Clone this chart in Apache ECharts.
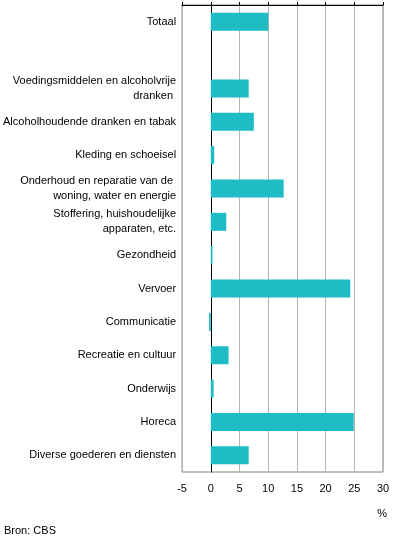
<!DOCTYPE html>
<html><head><meta charset="utf-8">
<script src="https://cdn.jsdelivr.net/npm/echarts@6/dist/echarts.min.js"></script>
<style>html,body{margin:0;padding:0;background:#fff}#c{width:396px;height:543px}</style>
</head><body><div id="c"></div>
<script>
var categories = ["Totaal", "", "Voedingsmiddelen en alcoholvrije\ndranken ", "Alcoholhoudende dranken en tabak", "Kleding en schoeisel", "Onderhoud en reparatie van de \nwoning, water en energie", "Stoffering, huishoudelijke\napparaten, etc.", "Gezondheid", "Vervoer", "Communicatie", "Recreatie en cultuur", "Onderwijs", "Horeca", "Diverse goederen en diensten"];
var values = [10.0, null, 6.6, 7.5, 0.6, 12.7, 2.7, 0.3, 24.3, -0.3, 3.1, 0.5, 24.9, 6.6];
var xTicks = [-5, 0, 5, 10, 15, 20, 25, 30];
var font = "Liberation Sans, Arial, sans-serif";
var chart = echarts.init(document.getElementById('c'), null, {renderer: 'canvas'});
chart.setOption({
  animation: false,
  grid: {left: 182, right: 13, top: 5, bottom: 71, show: true, borderColor: '#808080', borderWidth: 1, containLabel: false},
  xAxis: [{
    type: 'value', min: xTicks[0], max: xTicks[xTicks.length - 1], interval: 5,
    axisLine: {show: false}, axisTick: {show: false},
    splitLine: {show: true, lineStyle: {color: '#b4b4b4', width: 1}},
    axisLabel: {color: '#000', fontFamily: font, fontSize: 11, margin: 11}
  }, {
    type: 'value', position: 'top', min: xTicks[0], max: xTicks[xTicks.length - 1], interval: 5,
    axisLine: {show: true, lineStyle: {color: '#000', width: 1}},
    axisTick: {show: true, inside: false, length: 3, lineStyle: {color: '#000'}},
    splitLine: {show: false}, axisLabel: {show: false}
  }],
  yAxis: {
    type: 'category', data: categories, inverse: true,
    axisLine: {show: true, onZero: true, lineStyle: {color: '#000', width: 1}},
    axisTick: {show: false},
    axisLabel: {color: '#000', fontFamily: font, fontSize: 11, lineHeight: 15, margin: 6, align: 'right'}
  },
  series: [{
    type: 'bar', data: values, barWidth: '54%', xAxisIndex: 0,
    itemStyle: {color: '#1fbcc6'}
  }],
  graphic: [
    {type: 'text', right: 9, top: 508, style: {text: '%', fill: '#000', font: '11px ' + font}},
    {type: 'text', left: 4, top: 525, style: {text: 'Bron: CBS', fill: '#000', font: '11px ' + font}}
  ]
});
</script></body></html>
